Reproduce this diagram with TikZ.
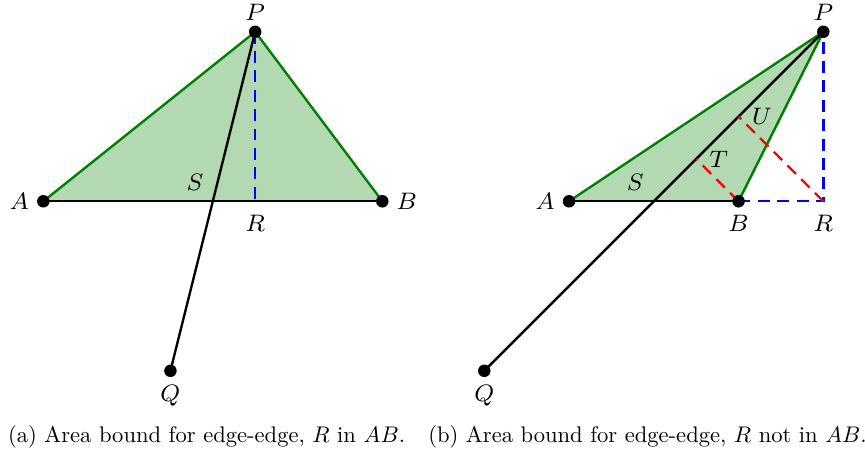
\documentclass[tikz,border=0pt]{standalone}
\usepackage{amsmath,amssymb}
\usetikzlibrary{calc,positioning}

\begin{document}
\begin{tikzpicture}[
  font=\fontsize{8.5}{10}\selectfont,
  tri/.style={fill=green!50!black!30},
  edge/.style={draw=green!50!black, thick},
  seg/.style={draw, thick},
  hgt/.style={draw=blue, thick, dash pattern=on 4pt off 2.5pt},
  prj/.style={draw=red, thick, dash pattern=on 4pt off 2.5pt},
  pt/.style={circle, fill, inner sep=0pt, minimum size=4.2pt},
  captxt/.style={font=\normalsize, scale=0.758, transform shape},
]
\useasboundingbox (-0.511,-3.017) rectangle (9.695,2.375);

% (a) R inside AB
\coordinate (a1) at (0,0);
\coordinate (b1) at (4,0);
\coordinate (p1) at (2.5,2);
\coordinate (r1) at (2.5,0);
\coordinate (q1) at (1.5,-2);
\coordinate (s1) at (2,0);
\fill[tri] (a1) -- (b1) -- (p1) -- cycle;
\draw[edge] (a1) -- (p1) -- (b1);
\draw[seg] (a1) -- (b1);
\draw[hgt] (p1) -- (r1);
\draw[seg] (p1) -- (q1);
\node[pt, label={[label distance=-1pt]left:$A$}] (na1) at (a1) {};
\node[pt, label={[label distance=-1pt]right:$B$}] (nb1) at (b1) {};
\node[pt, label={[label distance=-2pt]above:$P$}] (np1) at (p1) {};
\node[pt, label={[label distance=-1pt]below:$Q$}] (nq1) at (q1) {};
\node[below=1pt of r1] (lr1) {$R$};
\node (ls1) at ($(s1)+(-0.21,0.22)$) {$S$};

% (b) R outside AB
\begin{scope}[xshift=6.203cm]
\coordinate (a2) at (0,0);
\coordinate (b2) at (2,0);
\coordinate (p2) at (3,2);
\coordinate (r2) at (3,0);
\coordinate (q2) at (-1,-2);
\coordinate (s2) at (1,0);
\coordinate (t2) at ($(p2)!(b2)!(q2)$);
\coordinate (u2) at ($(p2)!(r2)!(q2)$);
\fill[tri] (a2) -- (b2) -- (p2) -- cycle;
\draw[edge] (a2) -- (p2) -- (b2);
\draw[seg] (a2) -- (b2);
\draw[hgt] (b2) -- (r2) -- (p2);
\draw[seg] (p2) -- (q2);
\draw[prj] (b2) -- (t2);
\draw[prj] (r2) -- (u2);
\node[pt, label={[label distance=-1pt]left:$A$}] (na2) at (a2) {};
\node[pt, label={[label distance=-1pt]below:$B$}] (nb2) at (b2) {};
\node[pt, label={[label distance=-2pt]above:$P$}] (np2) at (p2) {};
\node[pt, label={[label distance=-1pt]below:$Q$}] (nq2) at (q2) {};
\node[below=1pt of r2] (lr2) {$R$};
\node (ls2) at ($(s2)+(-0.22,0.22)$) {$S$};
\node[right=1pt of t2] (lt2) {$T$};
\node[right=1pt of u2] (lu2) {$U$};
\end{scope}

\node[captxt] (capa) at (1.926,-2.781) {(a) Area bound for edge-edge, $R$ in $AB$.};
\node[captxt] (capb) at (7.129,-2.781) {(b) Area bound for edge-edge, $R$ not in $AB$.};
\end{tikzpicture}
\end{document}
